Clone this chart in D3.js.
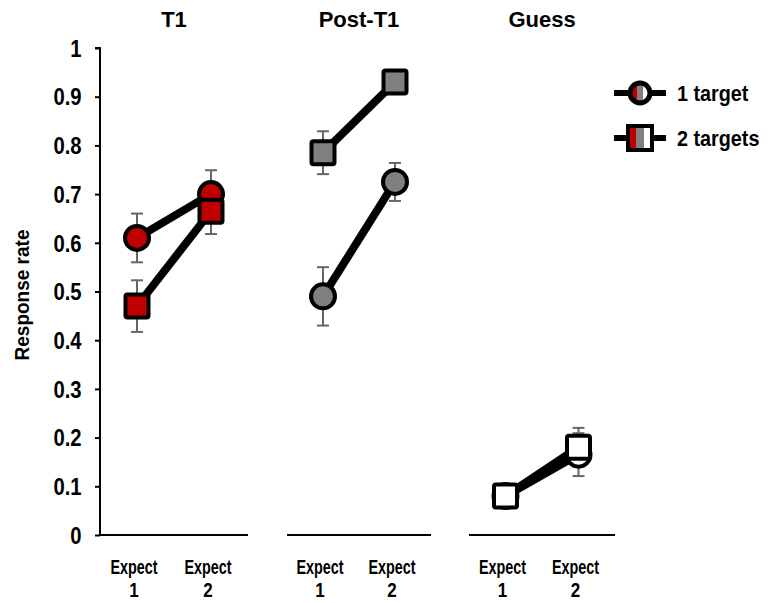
<!DOCTYPE html>
<html>
<head>
<meta charset="utf-8">
<script src="https://cdn.jsdelivr.net/npm/d3@7"></script>
<style>
  body { margin: 0; background: #fff; }
  svg text { font-family: "Liberation Sans", Arial, sans-serif; font-weight: bold; fill: #000; }
</style>
</head>
<body>
<svg id="chart" width="768" height="603"></svg>
<script>
// panels and conditions
var panels = ["T1", "Post-T1", "Guess"];
var conditions = ["Expect 1", "Expect 2"];
var yTicks = [0, 0.1, 0.2, 0.3, 0.4, 0.5, 0.6, 0.7, 0.8, 0.9, 1];

// 1 target means / SE per panel
var oneTargetMeans = [[0.61, 0.70], [0.49, 0.725], [0.08, 0.165]];
var oneTargetErr   = [[0.05, 0.049], [0.06, 0.039], [0.01, 0.044]];
// 2 targets means / SE per panel
var twoTargetMeans = [[0.47, 0.665], [0.785, 0.93], [0.08, 0.18]];
var twoTargetErr   = [[0.053, 0.047], [0.044, 0.01], [0.01, 0.04]];

var panelFill = ["#c00000", "#808080", "#ffffff"];
var panelRanges = [[100, 248], [287, 431], [469, 615]];

var svg = d3.select("#chart");

var y = d3.scaleLinear().domain([0, 1]).range([535, 48]);

// narrow text helper (the original uses a condensed face)
var narrow = function(sel, x, yy, size, sx) {
  return sel.append("text")
      .attr("transform", "translate(" + x + "," + yy + ") scale(" + sx + ",1)")
      .attr("font-size", size);
};

// y axis
var yAxis = svg.append("g")
    .attr("transform", "translate(100,0)")
    .call(d3.axisLeft(y).tickValues(yTicks).tickSize(5).tickPadding(16)
      .tickFormat(function(d) { return d === 0 || d === 1 ? d3.format("d")(d) : d3.format(".1f")(d); }));
yAxis.select(".domain").attr("stroke", "#000").attr("stroke-width", 2).attr("d", "M-5,48H0V535");
yAxis.selectAll(".tick line").attr("stroke-width", 2);
yAxis.selectAll(".tick text").attr("font-size", 23).attr("fill", "#000")
    .attr("transform", "scale(0.88,1)").attr("dy", "0.36em");

narrow(svg, 29, 295, 20, 1)
    .attr("transform", "translate(29,295) rotate(-90) scale(0.95,1)")
    .attr("text-anchor", "middle")
    .text("Response rate");

var series = [
  { name: "1 target", means: oneTargetMeans, err: oneTargetErr, shape: "circle" },
  { name: "2 targets", means: twoTargetMeans, err: twoTargetErr, shape: "square" }
];

panels.forEach(function(p, pi) {
  var x = d3.scalePoint().domain(conditions).range(panelRanges[pi]).padding(0.5);
  var g = svg.append("g").attr("class", "panel");

  // x axis line
  var xAxis = g.append("g").attr("transform", "translate(0,535)")
      .call(d3.axisBottom(x).tickSize(0).tickFormat(""));
  xAxis.select(".domain").attr("stroke", "#000").attr("stroke-width", 2)
      .attr("d", "M" + panelRanges[pi][0] + ",0H" + panelRanges[pi][1]);

  // two-line category labels
  conditions.forEach(function(c) {
    var parts = c.split(" ");
    narrow(g, x(c) - 3, 574, 20, 0.72).attr("text-anchor", "middle").text(parts[0]);
    narrow(g, x(c) - 3, 597, 20, 0.85).attr("text-anchor", "middle").text(parts[1]);
  });

  // title
  narrow(g, (panelRanges[pi][0] + panelRanges[pi][1]) / 2, 27, 22, 1)
      .attr("text-anchor", "middle")
      .text(p);

  // error bars
  series.forEach(function(s) {
    conditions.forEach(function(c, ci) {
      var m = s.means[pi][ci], e = s.err[pi][ci], cx = x(c);
      var eb = g.append("g").attr("stroke", "#666").attr("stroke-width", 2);
      eb.append("line").attr("x1", cx).attr("x2", cx).attr("y1", y(m - e)).attr("y2", y(m + e));
      eb.append("line").attr("x1", cx - 6).attr("x2", cx + 6).attr("y1", y(m - e)).attr("y2", y(m - e));
      eb.append("line").attr("x1", cx - 6).attr("x2", cx + 6).attr("y1", y(m + e)).attr("y2", y(m + e));
    });
  });

  // lines and markers
  var line = d3.line().x(function(d, i) { return x(conditions[i]); }).y(function(d) { return y(d); });
  series.forEach(function(s) {
    g.append("path")
        .attr("d", line(s.means[pi]))
        .attr("fill", "none")
        .attr("stroke", "#000")
        .attr("stroke-width", 8);
  });
  series.forEach(function(s) {
    conditions.forEach(function(c, ci) {
      var cx = x(c), cy = y(s.means[pi][ci]);
      if (s.shape === "circle") {
        g.append("circle").attr("cx", cx).attr("cy", cy).attr("r", 12)
            .attr("fill", panelFill[pi]).attr("stroke", "#000").attr("stroke-width", 4);
      } else {
        g.append("rect").attr("x", cx - 11.5).attr("y", cy - 11.5).attr("width", 23).attr("height", 23)
            .attr("rx", 2)
            .attr("fill", panelFill[pi]).attr("stroke", "#000").attr("stroke-width", 4);
      }
    });
  });
});

// legend
var defs = svg.append("defs");
var grad = defs.append("linearGradient").attr("id", "tri").attr("x1", "0").attr("x2", "1").attr("y1", "0").attr("y2", "0");
[[0, panelFill[0]], [0.33, panelFill[0]], [0.33, panelFill[1]], [0.66, panelFill[1]], [0.66, panelFill[2]], [1, panelFill[2]]]
  .forEach(function(s) { grad.append("stop").attr("offset", s[0]).attr("stop-color", s[1]); });

var legend = svg.append("g");
series.forEach(function(s, i) {
  var ly = 93 + i * 45;
  legend.append("line").attr("x1", 614).attr("x2", 666).attr("y1", ly).attr("y2", ly)
      .attr("stroke", "#000").attr("stroke-width", 6);
  if (s.shape === "circle") {
    legend.append("circle").attr("cx", 640).attr("cy", ly).attr("r", 10)
        .attr("fill", "url(#tri)").attr("stroke", "#000").attr("stroke-width", 5);
  } else {
    legend.append("rect").attr("x", 628).attr("y", ly - 12).attr("width", 24).attr("height", 24)
        .attr("fill", "url(#tri)").attr("stroke", "#000").attr("stroke-width", 4);
  }
  narrow(legend, 677, ly + 8, 22, 0.9).text(s.name);
});
</script>
</body>
</html>
